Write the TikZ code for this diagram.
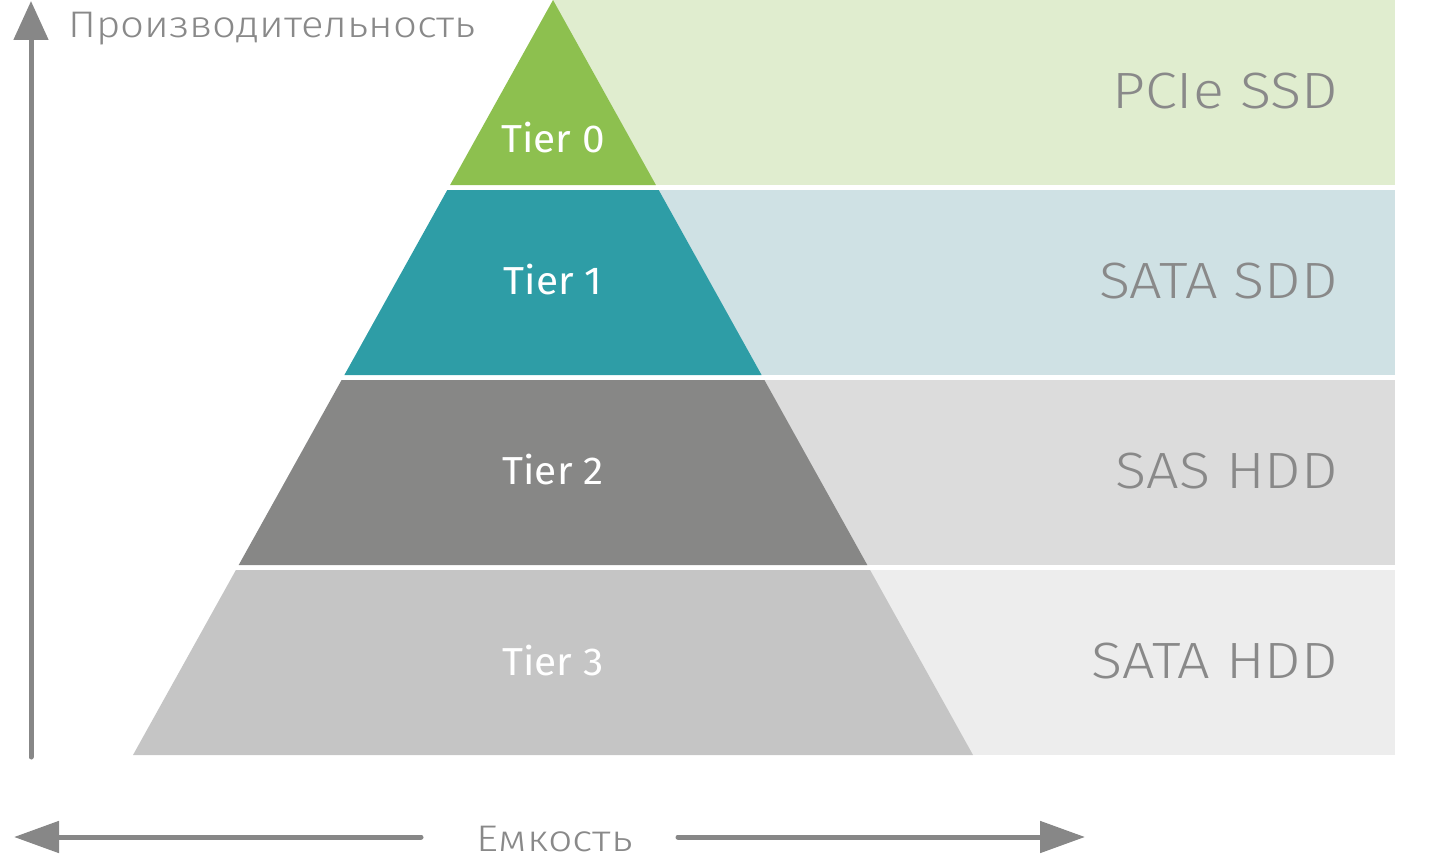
\documentclass[tikz,border=0pt]{standalone}
\usepackage{fontspec}
\setmainfont{Fira Sans Light}
\newfontfamily\lightf{Fira Sans Light}[FakeStretch=1.13]
\newfontfamily\axisf{Fira Sans Light}[FakeStretch=1.16]
\newfontfamily\titlef{Fira Sans Light}[FakeStretch=1.135]
\newfontfamily\tierf{Fira Sans}[FakeStretch=1.04]
\usetikzlibrary{arrows.meta}
\definecolor{cGreen}{HTML}{8DC04F}
\definecolor{cGreenL}{HTML}{E0EDCF}
\definecolor{cTeal}{HTML}{2E9DA6}
\definecolor{cTealL}{HTML}{CFE1E4}
\definecolor{cGray}{HTML}{878786}
\definecolor{cGrayL}{HTML}{DCDCDC}
\definecolor{cSilver}{HTML}{C5C5C5}
\definecolor{cSilverL}{HTML}{EDEDED}
\definecolor{cText}{HTML}{898989}
\definecolor{cArrow}{HTML}{878787}
\tikzset{
  tierlabel/.style={text=white,font=\tierf\fontsize{39}{39}\selectfont,inner sep=0pt,anchor=base},
  medialabel/.style={text=cText,font=\lightf\fontsize{51}{51}\selectfont,inner sep=0pt,anchor=base east},
  axislabel/.style={text=cText,font=\axisf\fontsize{37}{37}\selectfont,inner sep=0pt},
  titlelabel/.style={text=cText,font=\titlef\fontsize{37}{37}\selectfont,inner sep=0pt},
  axisline/.style={draw=cArrow,line width=5pt,line cap=round},
}
\begin{document}
\begin{tikzpicture}[x=1pt,y=-1pt]
\useasboundingbox (0,0) rectangle (1443,867);
% background bands
\fill[cGreenL]  (553,0)   rectangle (1395,185);
\fill[cTealL]   (553,190) rectangle (1395,375);
\fill[cGrayL]   (553,380) rectangle (1395,565);
\fill[cSilverL] (553,570) rectangle (1395,755);
% pyramid layers
\fill[cGreen]  (553,0) -- (655.9,185) -- (450.1,185) -- cycle;
\fill[cTeal]   (447.3,190) -- (658.7,190) -- (761.6,375) -- (344.4,375) -- cycle;
\fill[cGray]   (341.6,380) -- (764.4,380) -- (867.3,565) -- (238.7,565) -- cycle;
\fill[cSilver] (235.9,570) -- (870.1,570) -- (973,755) -- (133,755) -- cycle;
% tier labels
\node[tierlabel] (t0) at (553,152) {Tier 0};
\node[tierlabel] (t1) at (553,294) {Tier 1};
\node[tierlabel] (t2) at (553,484) {Tier 2};
\node[tierlabel] (t3) at (553,675) {Tier 3};
% media labels
\node[medialabel] (m0) at (1338,108) {PCIe SSD};
\node[medialabel] (m1) at (1338,298) {SATA SDD};
\node[medialabel] (m2) at (1338,488) {SAS HDD};
\node[medialabel] (m3) at (1338,678) {SATA HDD};
% vertical axis
\coordinate (vb) at (31,757);
\coordinate (vt) at (31,1);
\draw[axisline,-{Triangle[length=39pt,width=34pt]}] (vb) -- (vt);
\node[titlelabel,anchor=base west] (perf) at (68,38) {Производительность};
% horizontal axis
\node[axislabel,anchor=base] (cap) at (555,851) {Емкость};
\coordinate (hl0) at (421,837);
\coordinate (hl1) at (14,837);
\coordinate (hr0) at (678,837);
\coordinate (hr1) at (1085,837);
\draw[axisline,-{Triangle[length=45pt,width=31pt]}] (hl0) -- (hl1);
\draw[axisline,-{Triangle[length=45pt,width=31pt]}] (hr0) -- (hr1);
\end{tikzpicture}
\end{document}
